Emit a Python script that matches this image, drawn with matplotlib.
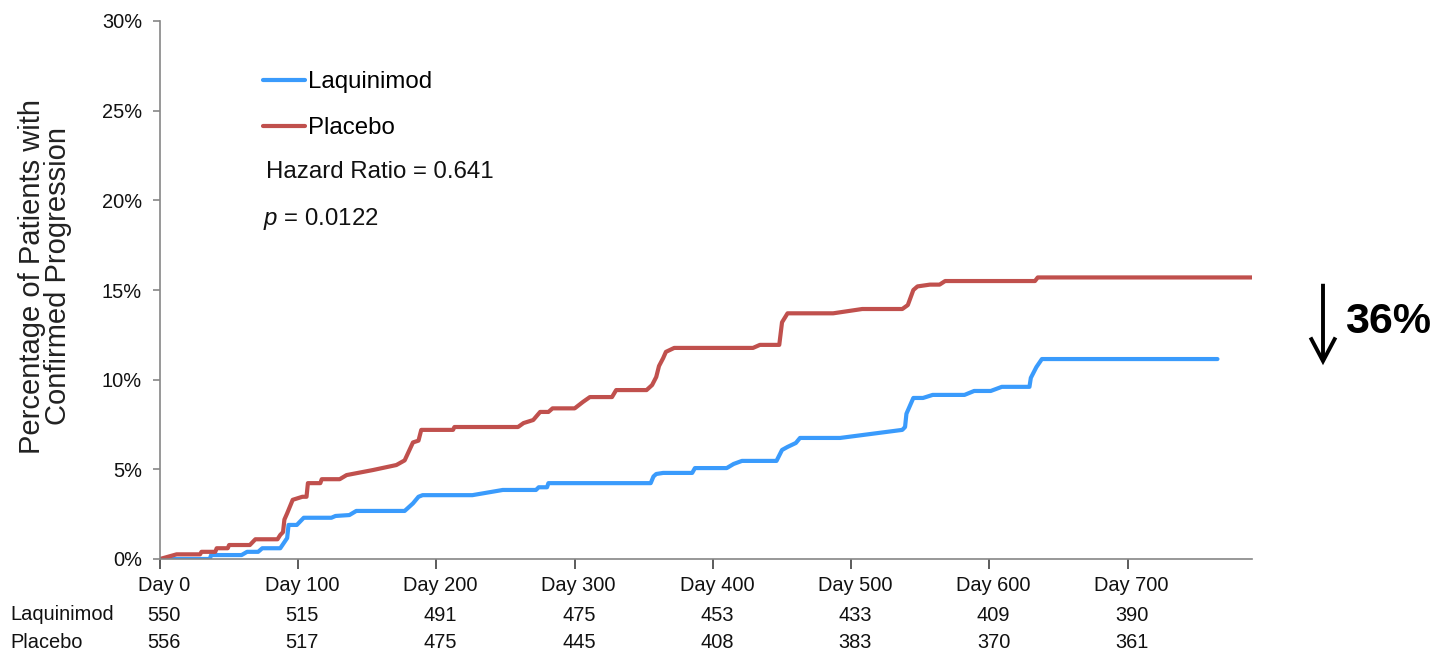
import matplotlib.pyplot as plt
import matplotlib.transforms as mtransforms
from matplotlib.patches import FancyArrowPatch

plt.rcParams['font.family'] = ['Liberation Sans', 'DejaVu Sans']
plt.rcParams['mathtext.fontset'] = 'custom'
plt.rcParams['mathtext.it'] = 'Liberation Sans:italic'
plt.rcParams['mathtext.rm'] = 'Liberation Sans'

# curvas de Kaplan-Meier (dia, % de pacientes com progressao)
placebo_day = [0, 12, 29, 30, 40, 41, 49, 50, 65, 69, 85, 87, 89, 90, 92, 96, 103, 106, 107, 116,
               117, 130, 135, 154, 171, 177, 183, 187, 189, 212, 213, 259, 263, 270, 275, 281, 284,
               300, 306, 311, 327, 330, 352, 356, 359, 361, 364, 366, 372, 429, 434, 448, 450, 454,
               487, 508, 537, 541, 545, 548, 557, 564, 568, 633, 635, 790]
placebo_pct = [0, 0.26, 0.26, 0.4, 0.4, 0.6, 0.6, 0.78, 0.78, 1.1, 1.1, 1.34, 1.5, 2.2, 2.55, 3.3,
               3.47, 3.47, 4.23, 4.23, 4.45, 4.45, 4.68, 4.96, 5.24, 5.5, 6.5, 6.6, 7.2, 7.2, 7.36,
               7.36, 7.58, 7.75, 8.2, 8.2, 8.4, 8.4, 8.76, 9.03, 9.03, 9.42, 9.42, 9.7, 10.15, 10.76,
               11.2, 11.55, 11.77, 11.77, 11.94, 11.94, 13.2, 13.7, 13.7, 13.94, 13.94, 14.16, 15.0,
               15.2, 15.3, 15.3, 15.5, 15.5, 15.7, 15.7]

laq_day = [0, 36, 37, 59, 63, 71, 74, 87, 92, 93, 99, 104, 124, 127, 137, 142, 177, 183, 187, 190,
           226, 248, 272, 274, 280, 281, 355, 357, 359, 364, 385, 387, 410, 415, 421, 446, 450, 454,
           460, 463, 492, 537, 539, 540, 545, 552, 559, 582, 589, 601, 609, 629, 630, 632, 634,
           638, 765]
laq_pct = [0, 0, 0.22, 0.22, 0.4, 0.4, 0.6, 0.6, 1.17, 1.9, 1.9, 2.3, 2.3, 2.4, 2.45, 2.68, 2.68,
           3.1, 3.47, 3.56, 3.56, 3.85, 3.85, 4.0, 4.0, 4.23, 4.23, 4.6, 4.74, 4.8, 4.8, 5.07, 5.07,
           5.3, 5.47, 5.47, 6.08, 6.25, 6.47, 6.75, 6.75, 7.2, 7.36, 8.1, 8.98, 8.98, 9.15, 9.15,
           9.37, 9.37, 9.6, 9.6, 10.1, 10.4, 10.7, 11.15, 11.15]

# tabela de pacientes em risco
risk_days = [0, 100, 200, 300, 400, 500, 600, 700]
risk_laq = [550, 515, 491, 475, 453, 433, 409, 390]
risk_pla = [556, 517, 475, 445, 408, 383, 370, 361]

cor_laq = '#3A9BFC'
cor_pla = '#C0504D'
cinza = '#868686'
texto = '#111111'

fig = plt.figure(figsize=(14.41, 6.52), dpi=100)
ax = fig.add_axes([160 / 1441, 1 - 559 / 652, (1252 - 160) / 1441, (559 - 21) / 652])

ax.plot(laq_day, laq_pct, color=cor_laq, lw=3, solid_joinstyle='round', solid_capstyle='round',
        label='Laquinimod')
ax.plot(placebo_day, placebo_pct, color=cor_pla, lw=3, solid_joinstyle='round',
        solid_capstyle='round', label='Placebo')

ax.set_xlim(0, 790)
ax.set_ylim(0, 30)
ax.set_yticks(range(0, 31, 5))
ax.set_yticklabels([f'{v}%' for v in range(0, 31, 5)])
ax.set_xticks(risk_days)
ax.set_xticklabels([f'Day {d}' for d in risk_days])
for s in ['top', 'right']:
    ax.spines[s].set_visible(False)
for s in ['left', 'bottom']:
    ax.spines[s].set_color(cinza)
    ax.spines[s].set_linewidth(1.2)
ax.tick_params(axis='y', length=5, width=1.2, color=cinza, pad=8, labelsize=14.4, labelcolor=texto)
ax.tick_params(axis='x', length=7, width=1.2, color='#404040', pad=5, labelsize=14.4, labelcolor=texto)
desloc = mtransforms.ScaledTranslation(4 / 100, 0, fig.dpi_scale_trans)
for lab in ax.get_xticklabels():
    lab.set_transform(lab.get_transform() + desloc)

fig.text(45 / 1441, 1 - 276 / 652, 'Percentage of Patients with\nConfirmed Progression',
         rotation=90, ha='center', va='center', fontsize=21, color='#222222', linespacing=0.95)

leg = ax.legend(loc='upper left', bbox_to_anchor=(0.094, 0.907), frameon=False, fontsize=17.3,
                handlelength=1.75, handletextpad=0.12, labelspacing=1.0, borderaxespad=0,
                borderpad=0)

ax.text(0.097, 0.72, 'Hazard Ratio = 0.641', transform=ax.transAxes, fontsize=17.3,
        va='center', ha='left', color=texto)
ax.text(0.094, 0.632, '$p$ = 0.0122', transform=ax.transAxes, fontsize=17.3,
        va='center', ha='left', color=texto)

# tabela de risco abaixo do eixo
trans = mtransforms.blended_transform_factory(ax.transData, ax.transAxes)
for d, a, b in zip(risk_days, risk_laq, risk_pla):
    ax.text(d + 3, -0.105, str(a), transform=trans, ha='center', va='center', fontsize=14.4,
            color=texto)
    ax.text(d + 3, -0.155, str(b), transform=trans, ha='center', va='center', fontsize=14.4,
            color=texto)
fig.text(10 / 1441, 1 - 615 / 652, 'Laquinimod', ha='left', va='center', fontsize=14.4, color=texto)
fig.text(10 / 1441, 1 - 642 / 652, 'Placebo', ha='left', va='center', fontsize=14.4, color=texto)

# seta de reducao
fig.patches.append(FancyArrowPatch(
    (1323 / 1441, 1 - 281 / 652), (1323 / 1441, 1 - 368 / 652), transform=fig.transFigure,
    arrowstyle='->,head_length=0.85,head_width=0.45', mutation_scale=20, color='black',
    lw=2.8, capstyle='butt', joinstyle='miter'))
fig.text(1345 / 1441, 1 - 322 / 652, '36%', ha='left', va='center', fontsize=31,
         fontweight='bold', color='black')

fig.savefig('out.png', dpi=100)
